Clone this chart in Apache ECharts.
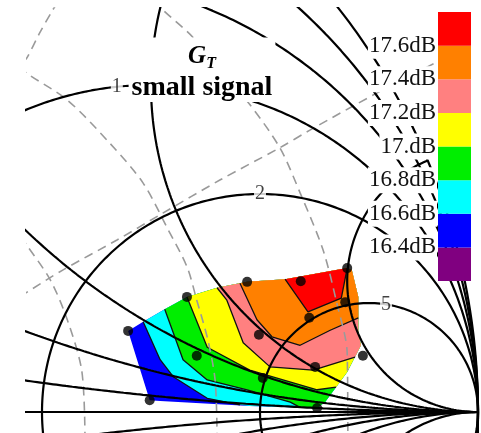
<!DOCTYPE html>
<html><head><meta charset="utf-8">
<script src="https://cdn.jsdelivr.net/npm/echarts@6/dist/echarts.min.js"></script>
<style>html,body{margin:0;padding:0;background:#fff}#c{width:481px;height:433px}</style>
</head><body><div id="c"></div>
<script>
// ---------- data (reflection-coefficient plane: [Re Γ, Im Γ]) ----------
const rValues = [0, 0.2, 0.5, 1, 2, 5];
const xValues = [0.2, 0.5, 1, 2, 5];
const rLabelValues = ['1', '2', '5'];

const levels = [16.2, 16.4, 16.6, 16.8, 17.0, 17.2, 17.4, 17.6, 17.8];
const tickValues = [16.4, 16.6, 16.8, 17.0, 17.2, 17.4, 17.6];
const tickLabels = ['16.4dB', '16.6dB', '16.8dB', '17.dB', '17.2dB', '17.4dB', '17.6dB'];

const samplePoints = [
  [0.465, 0.124], [0.555, 0.176], [0.647, 0.199], [0.729, 0.200], [0.800, 0.220],
  [0.570, 0.086], [0.665, 0.118], [0.742, 0.144], [0.797, 0.168],
  [0.498, 0.018], [0.671, 0.052], [0.751, 0.069], [0.824, 0.086],
  [0.754, 0.006]
];

// outer boundary of the interpolated region (clockwise from top-left)
const regionBoundary = [
  [0.465, 0.124], [0.488, 0.138], [0.521, 0.157], [0.555, 0.176], [0.601, 0.190],
  [0.647, 0.199], [0.705, 0.203], [0.800, 0.220], [0.807, 0.217], [0.817, 0.176],
  [0.817, 0.121], [0.821, 0.102], [0.800, 0.061], [0.766, 0.015], [0.754, 0.006],
  [0.651, 0.009], [0.514, 0.017], [0.498, 0.018]
];
// iso-gain contours (start on upper edge, end on lower/right edge)
const contour166 = [[0.488, 0.138], [0.514, 0.080], [0.534, 0.054], [0.586, 0.021], [0.636, 0.011]];
const contour168 = [[0.521, 0.157], [0.549, 0.080], [0.586, 0.049], [0.647, 0.034], [0.713, 0.015], [0.728, 0.007]];
const contour170 = [[0.555, 0.176], [0.586, 0.099], [0.651, 0.064], [0.754, 0.034], [0.783, 0.038]];
const contour172 = [[0.601, 0.190], [0.616, 0.171], [0.641, 0.106], [0.682, 0.069], [0.748, 0.064], [0.812, 0.084]];
const contour174 = [[0.636, 0.197], [0.662, 0.141], [0.685, 0.115], [0.728, 0.102], [0.774, 0.125], [0.817, 0.144]];
const contour176 = [[0.705, 0.203], [0.740, 0.153], [0.791, 0.174], [0.800, 0.220]];

// gray dashed grid curves
const dashedA = [[0.358, 0.627], [0.350, 0.615], [0.330, 0.580], [0.310, 0.541], [0.300, 0.529], [0.310, 0.518],
  [0.372, 0.477], [0.437, 0.411], [0.488, 0.350], [0.524, 0.283], [0.555, 0.222], [0.570, 0.171],
  [0.587, 0.110], [0.598, 0.049], [0.601, -0.032]];
const dashedB = [[0.300, 0.177], [0.310, 0.183], [0.365, 0.217], [0.448, 0.263], [0.518, 0.304], [0.606, 0.355],
  [0.697, 0.404], [0.743, 0.431], [0.846, 0.488], [0.937, 0.535]];
const dashedC = [[0.300, 0.268], [0.310, 0.255], [0.346, 0.202], [0.372, 0.141], [0.394, 0.064], [0.399, -0.032]];
const dashedD = [[0.506, 0.630], [0.518, 0.615], [0.564, 0.573], [0.648, 0.474], [0.697, 0.404], [0.728, 0.335],
  [0.763, 0.248], [0.784, 0.167], [0.800, 0.090], [0.801, -0.032]];

const bandColors = ['#800080', '#0000ff', '#00ffff', '#00ee00', '#ffff00', '#ff8080', '#ff8000', '#ff0000'];

// ---------- build geometry ----------
function resistanceCircle(r) {
  const c = r / (1 + r), R = 1 / (1 + r), pts = [];
  for (let i = 0; i <= 720; i++) { const t = i / 720 * 2 * Math.PI; pts.push([c + R * Math.cos(t), R * Math.sin(t)]); }
  return pts;
}
function reactanceArc(x) {
  const ax = Math.abs(x), R = 1 / ax, cy = 1 / ax;
  const px = (ax * ax - 1) / (ax * ax + 1), py = 2 * ax / (ax * ax + 1);
  let tEnd = Math.atan2(py - cy, px - 1);
  const t0 = -Math.PI / 2;
  if (tEnd > t0) tEnd -= 2 * Math.PI;
  const pts = [], n = 400;
  for (let i = 0; i <= n; i++) {
    const t = t0 + (tEnd - t0) * i / n;
    const y = cy + R * Math.sin(t);
    pts.push([1 + R * Math.cos(t), x > 0 ? y : -y]);
  }
  return pts;
}
function segParam(p) {
  let best = 1e9, bestP = 0;
  const n = regionBoundary.length;
  for (let i = 0; i < n; i++) {
    const a = regionBoundary[i], b = regionBoundary[(i + 1) % n];
    const dx = b[0] - a[0], dy = b[1] - a[1];
    let t = ((p[0] - a[0]) * dx + (p[1] - a[1]) * dy) / (dx * dx + dy * dy);
    t = Math.max(0, Math.min(1, t));
    const qx = a[0] + t * dx - p[0], qy = a[1] + t * dy - p[1];
    const d = qx * qx + qy * qy;
    if (d < best) { best = d; bestP = i + t; }
  }
  return bestP;
}
function superLevel(contour) {
  const pS = segParam(contour[0]), pE = segParam(contour[contour.length - 1]);
  const poly = contour.slice();
  for (let k = Math.floor(pE); k >= Math.floor(pS) + 1; k--) poly.push(regionBoundary[k]);
  return poly;
}
const bandPolys = [
  { poly: regionBoundary, color: bandColors[1] },
  { poly: superLevel(contour166), color: bandColors[2] },
  { poly: superLevel(contour168), color: bandColors[3] },
  { poly: superLevel(contour170), color: bandColors[4] },
  { poly: superLevel(contour172), color: bandColors[5] },
  { poly: superLevel(contour174), color: bandColors[6] },
  { poly: contour176, color: bandColors[7] }
];

const series = [];
series.push({
  type: 'custom', xAxisIndex: 0, yAxisIndex: 0, z: 1, clip: true,
  data: bandPolys.map((b, i) => [0.6, 0.1, i]),
  renderItem: function (params, api) {
    const b = bandPolys[params.dataIndex];
    return { type: 'polygon', shape: { points: b.poly.map(p => api.coord(p)) }, style: { fill: b.color, stroke: null } };
  }
});
[contour166, contour168, contour170, contour172, contour174, contour176].forEach(c => {
  series.push({ type: 'line', data: c, showSymbol: false, z: 2, silent: true,
    lineStyle: { color: '#111', width: 1.3 } });
});
[dashedA, dashedB, dashedC, dashedD].forEach(d => {
  series.push({ type: 'line', data: d, showSymbol: false, smooth: 0.3, z: 3, silent: true,
    lineStyle: { color: '#9a9a9a', width: 1.6, type: [9, 6] } });
});
const smithStyle = { color: '#000', width: 2.2 };
rValues.forEach(r => series.push({ type: 'line', data: resistanceCircle(r), showSymbol: false, z: 4, silent: true, lineStyle: smithStyle }));
xValues.forEach(x => {
  series.push({ type: 'line', data: reactanceArc(x), showSymbol: false, z: 4, silent: true, lineStyle: smithStyle });
  series.push({ type: 'line', data: reactanceArc(-x), showSymbol: false, z: 4, silent: true, lineStyle: smithStyle });
});
series.push({ type: 'line', data: [[-1, 0], [1, 0]], showSymbol: false, z: 4, silent: true, lineStyle: smithStyle });

// resistance-circle labels placed on their circles
const labelAngles = { '1': 96, '2': 90, '5': 81 };
series.push({
  type: 'scatter', z: 6, symbolSize: 0, silent: true,
  data: rLabelValues.map(s => {
    const r = parseFloat(s), c = r / (1 + r), R = 1 / (1 + r), t = labelAngles[s] * Math.PI / 180;
    return { value: [c + R * Math.cos(t), R * Math.sin(t)], name: s };
  }),
  label: { show: true, position: 'inside', formatter: p => p.name, color: '#111',
    fontFamily: 'Liberation Serif', fontSize: 20, backgroundColor: '#fff', padding: [0, 1, 0, 1] }
});
series.push({ type: 'scatter', z: 7, data: samplePoints, symbolSize: 10, itemStyle: { color: '#000' }, silent: true });

// colour bar
series.push({
  type: 'custom', xAxisIndex: 1, yAxisIndex: 1, z: 8,
  data: bandColors.map((c, i) => [0.5, levels[i], i]),
  renderItem: function (params, api) {
    const i = params.dataIndex;
    const p0 = api.coord([0, levels[i]]), p1 = api.coord([1, levels[i + 1]]);
    return { type: 'rect', shape: { x: p0[0], y: p1[1], width: p1[0] - p0[0], height: p0[1] - p1[1] }, style: { fill: bandColors[i] } };
  }
});

const chart = echarts.init(document.getElementById('c'), null, { renderer: 'canvas' });
chart.setOption({
  animation: false,
  backgroundColor: '#fff',
  title: {
    text: '{g|G}{t|T}\n{s|small signal}',
    left: 199, top: 35, textAlign: 'center', backgroundColor: '#fff', padding: [7, 3, 0, 3], z: 20,
    textStyle: {
      rich: {
        g: { fontFamily: 'Liberation Serif', fontWeight: 'bold', fontStyle: 'italic', fontSize: 25, lineHeight: 30, color: '#000' },
        t: { fontFamily: 'Liberation Serif', fontWeight: 'bold', fontStyle: 'italic', fontSize: 16, lineHeight: 22, verticalAlign: 'bottom', color: '#000' },
        s: { fontFamily: 'Liberation Serif', fontWeight: 'bold', fontSize: 28, lineHeight: 32, color: '#000' }
      }
    }
  },
  grid: [
    { left: 27, top: 8, right: 0, bottom: 0 },
    { left: 438, top: 12, width: 33, height: 269 }
  ],
  xAxis: [
    { type: 'value', gridIndex: 0, min: 0.3104, max: 1.0046, show: false },
    { type: 'value', gridIndex: 1, min: 0, max: 1, show: false }
  ],
  yAxis: [
    { type: 'value', gridIndex: 0, min: -0.0321, max: 0.6177, show: false },
    { type: 'value', gridIndex: 1, min: 16.2, max: 17.8, interval: 0.2, z: 15,
      axisLine: { show: false }, axisTick: { show: false }, splitLine: { show: false },
      axisLabel: {
        show: true, margin: 1, showMinLabel: false, showMaxLabel: false,
        fontFamily: 'Liberation Serif', fontSize: 23, color: '#111', backgroundColor: '#fff', padding: [0, 1, 3, 1],
        formatter: function (v) {
          const i = tickValues.findIndex(t => Math.abs(t - v) < 1e-6);
          return i >= 0 ? tickLabels[i] : '';
        }
      }
    }
  ],
  series: series
});
</script></body></html>
